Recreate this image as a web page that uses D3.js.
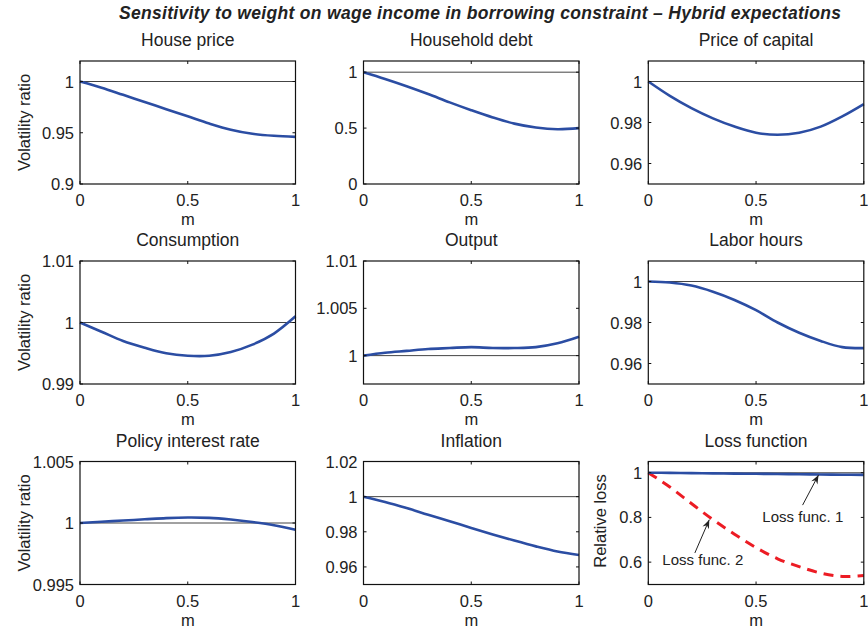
<!DOCTYPE html>
<html>
<head>
<meta charset="utf-8">
<script src="https://cdn.jsdelivr.net/npm/d3@7"></script>
<style>
  body { margin: 0; background: #fff; }
  svg { font-family: "Liberation Sans", Arial, Helvetica, sans-serif; }
</style>
</head>
<body>
<svg id="chart" width="868" height="629"></svg>
<script>
// weight on wage income
const mVals = [0, 0.1, 0.2, 0.3, 0.4, 0.5, 0.6, 0.7, 0.8, 0.9, 1];

const housePrice    = [1, 0.994, 0.987, 0.980, 0.973, 0.966, 0.959, 0.953, 0.949, 0.947, 0.946];
const householdDebt = [1, 0.94, 0.875, 0.805, 0.73, 0.66, 0.595, 0.54, 0.505, 0.49, 0.50];
const priceCapital  = [1, 0.993, 0.987, 0.982, 0.978, 0.975, 0.974, 0.975, 0.978, 0.983, 0.989];
const consumption   = [1, 0.9985, 0.9970, 0.9959, 0.9950, 0.9946, 0.9946, 0.9952, 0.9964, 0.9982, 1.001];
const output        = [1, 1.0003, 1.0005, 1.0007, 1.0008, 1.0009, 1.0008, 1.0008, 1.0009, 1.0013, 1.002];
const laborHours    = [1, 0.9995, 0.998, 0.995, 0.991, 0.986, 0.980, 0.975, 0.971, 0.968, 0.9675];
const policyRate    = [1, 1.0001, 1.0002, 1.0003, 1.0004, 1.00045, 1.00042, 1.00028, 1.00008, 0.99982, 0.99945];
const inflation     = [1, 0.997, 0.9935, 0.9897, 0.986, 0.9822, 0.9785, 0.975, 0.9717, 0.9688, 0.9668];
const lossFunc1     = [1, 0.999, 0.998, 0.997, 0.996, 0.995, 0.994, 0.993, 0.992, 0.991, 0.990];
const lossFunc2     = [1, 0.936, 0.862, 0.79, 0.725, 0.665, 0.615, 0.58, 0.551, 0.536, 0.54];

const panelTitles = ["House price", "Household debt", "Price of capital",
                     "Consumption", "Output", "Labor hours",
                     "Policy interest rate", "Inflation", "Loss function"];
const panelSeries = [housePrice, householdDebt, priceCapital,
                     consumption, output, laborHours,
                     policyRate, inflation, lossFunc1];
const yDomains = [[0.9, 1.02], [0, 1.1], [0.95, 1.01],
                  [0.99, 1.01], [0.997, 1.01], [0.95, 1.01],
                  [0.995, 1.005], [0.95, 1.02], [0.5, 1.05]];
const yTickVals = [[0.9, 0.95, 1], [0, 0.5, 1], [0.96, 0.98, 1],
                   [0.99, 1, 1.01], [1, 1.005, 1.01], [0.96, 0.98, 1],
                   [0.995, 1, 1.005], [0.96, 0.98, 1, 1.02], [0.6, 0.8, 1]];
const xTickVals = [0, 0.5, 1];

const svg = d3.select("#chart");
const blue = "#2b4da3";
const red = "#ec1c24";

const panelW = 215.5, panelH = 123;
const colLeft = [80, 363.5, 648.3];
const rowTop = [61, 261, 461.5];

svg.append("defs").append("marker")
  .attr("id", "arrow")
  .attr("viewBox", "-10 -5 12 10")
  .attr("refX", 0).attr("refY", 0)
  .attr("markerWidth", 12).attr("markerHeight", 10)
  .attr("markerUnits", "userSpaceOnUse")
  .attr("orient", "auto")
  .append("path")
  .attr("d", "M0,0 L-9,-3.5 L-6,0 L-9,3.5 Z")
  .attr("fill", "#222");

svg.append("text")
  .attr("x", 480).attr("y", 19)
  .attr("text-anchor", "middle")
  .attr("font-size", 17.5).attr("font-weight", "bold").attr("font-style", "italic")
  .attr("textLength", 722).attr("lengthAdjust", "spacing")
  .attr("fill", "#222")
  .text("Sensitivity to weight on wage income in borrowing constraint \u2013 Hybrid expectations");

panelTitles.forEach((title, i) => {
  const col = i % 3, row = Math.floor(i / 3);
  const g = svg.append("g")
    .attr("transform", `translate(${colLeft[col]},${rowTop[row]})`);

  const x = d3.scaleLinear().domain([0, 1]).range([0, panelW]);
  const y = d3.scaleLinear().domain(yDomains[i]).range([panelH, 0]);

  // reference line at 1
  g.append("line")
    .attr("x1", x(0)).attr("x2", x(1))
    .attr("y1", y(1)).attr("y2", y(1))
    .attr("stroke", i === 8 ? "#777" : "#444")
    .attr("stroke-width", i === 8 ? 1.6 : 1);

  const line = d3.line()
    .x((d, k) => x(mVals[k]))
    .y(d => y(d))
    .curve(d3.curveCatmullRom.alpha(0.5));

  if (i === 8) {
    g.append("path")
      .datum(lossFunc2)
      .attr("d", line)
      .attr("fill", "none")
      .attr("stroke", red)
      .attr("stroke-width", 3)
      .attr("stroke-dasharray", "10,7");
  }

  g.append("path")
    .datum(panelSeries[i])
    .attr("d", line)
    .attr("fill", "none")
    .attr("stroke", blue)
    .attr("stroke-width", 2.6);

  // box with inward ticks on all sides
  const tick = 3;
  g.append("rect")
    .attr("width", panelW).attr("height", panelH)
    .attr("fill", "none").attr("stroke", "#111").attr("stroke-width", 1.2);

  xTickVals.forEach(v => {
    g.append("line").attr("x1", x(v)).attr("x2", x(v))
      .attr("y1", panelH).attr("y2", panelH - tick).attr("stroke", "#111");
    g.append("line").attr("x1", x(v)).attr("x2", x(v))
      .attr("y1", 0).attr("y2", tick).attr("stroke", "#111");
    g.append("text")
      .attr("x", x(v)).attr("y", panelH + 22)
      .attr("text-anchor", "middle").attr("font-size", 16.5).attr("fill", "#222")
      .text(String(v));
  });

  yTickVals[i].forEach(v => {
    g.append("line").attr("x1", 0).attr("x2", tick)
      .attr("y1", y(v)).attr("y2", y(v)).attr("stroke", "#111");
    g.append("line").attr("x1", panelW).attr("x2", panelW - tick)
      .attr("y1", y(v)).attr("y2", y(v)).attr("stroke", "#111");
    g.append("text")
      .attr("x", -6).attr("y", y(v))
      .attr("text-anchor", "end").attr("dominant-baseline", "central")
      .attr("font-size", 16.5).attr("fill", "#222")
      .text(String(v));
  });

  g.append("text")
    .attr("x", panelW / 2).attr("y", -15)
    .attr("text-anchor", "middle").attr("font-size", 17.5).attr("fill", "#222")
    .text(title);

  g.append("text")
    .attr("x", panelW / 2).attr("y", panelH + 41)
    .attr("text-anchor", "middle").attr("font-size", 16.5).attr("fill", "#222")
    .text("m");

  if (col === 0) {
    g.append("text")
      .attr("transform", `translate(${30 - colLeft[0]},${panelH / 2}) rotate(-90)`)
      .attr("text-anchor", "middle").attr("font-size", 16.5).attr("fill", "#222")
      .text("Volatility ratio");
  }

  if (i === 8) {
    g.append("text")
      .attr("transform", `translate(-42,${panelH / 2 - 2}) rotate(-90)`)
      .attr("text-anchor", "middle").attr("font-size", 16.5).attr("fill", "#222")
      .text("Relative loss");

    const notes = [
      { label: "Loss func. 1", tx: 0.717, ty: 0.805, ax: 0.716, ay: 0.855, hx: 0.79, hy: 0.99 },
      { label: "Loss func. 2", tx: 0.253, ty: 0.61, ax: 0.216, ay: 0.641, hx: 0.283, hy: 0.79 }
    ];
    notes.forEach(n => {
      g.append("line")
        .attr("x1", x(n.ax)).attr("y1", y(n.ay))
        .attr("x2", x(n.hx)).attr("y2", y(n.hy))
        .attr("stroke", "#222").attr("stroke-width", 1)
        .attr("marker-end", "url(#arrow)");
      g.append("text")
        .attr("x", x(n.tx)).attr("y", y(n.ty))
        .attr("text-anchor", "middle").attr("dominant-baseline", "central")
        .attr("font-size", 15).attr("fill", "#222")
        .text(n.label);
    });
  }
});
</script>
</body>
</html>
